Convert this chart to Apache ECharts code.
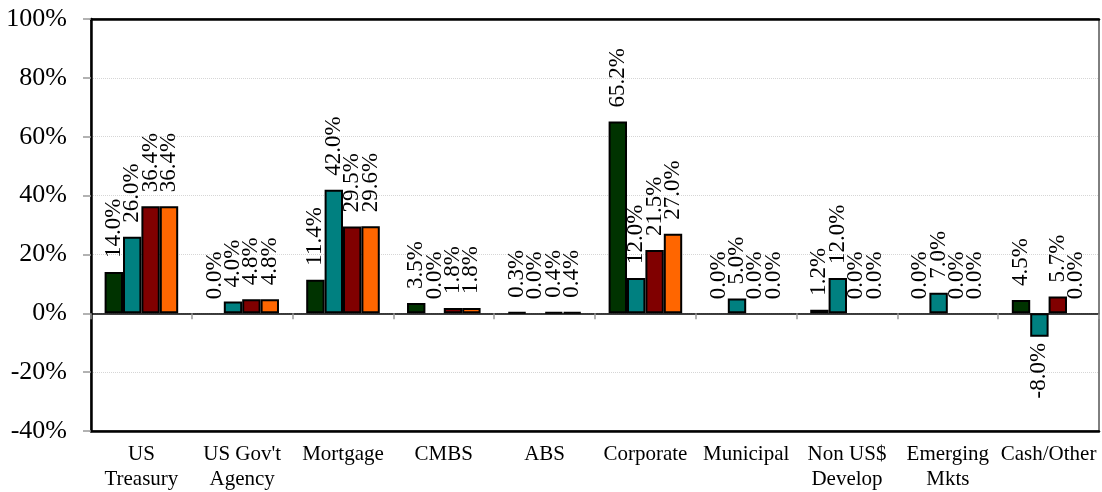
<!DOCTYPE html>
<html>
<head>
<meta charset="utf-8">
<script src="https://cdn.jsdelivr.net/npm/echarts@6/dist/echarts.min.js"></script>
<style>
  html, body { margin: 0; padding: 0; background: #fff; }
  #chart { width: 1102px; height: 492px; }
</style>
</head>
<body>
<div id="chart"></div>
<script>
// Sector allocation (%) by fund, four series per sector
const categories = ["US\nTreasury", "US Gov't\nAgency", "Mortgage", "CMBS", "ABS",
  "Corporate", "Municipal", "Non US$\nDevelop", "Emerging\nMkts", "Cash/Other"];
const seriesA = [14.0, 0.0, 11.4, 3.5, 0.3, 65.2, 0.0, 1.2, 0.0, 4.5];
const seriesB = [26.0, 4.0, 42.0, 0.0, 0.0, 12.0, 5.0, 12.0, 7.0, -8.0];
const seriesC = [36.4, 4.8, 29.5, 1.8, 0.4, 21.5, 0.0, 0.0, 0.0, 5.7];
const seriesD = [36.4, 4.8, 29.6, 1.8, 0.4, 27.0, 0.0, 0.0, 0.0, 0.0];
const colors = ['#003300', '#008080', '#800000', '#FF6600'];
const yTicks = { min: -40, max: 100, interval: 20 };

const FONT = 'Liberation Serif';

function toItems(values) {
  return values.map(v => {
    const item = { value: v };
    if (v === 0) item.itemStyle = { borderWidth: 0 };
    if (v < 0) item.label = { position: 'bottom', align: 'right', distance: 6 };
    return item;
  });
}

function makeSeries(values, color) {
  return {
    type: 'bar',
    xAxisIndex: 0,
    data: toItems(values),
    barGap: '0%',
    barCategoryGap: '27%',
    itemStyle: { color: color, borderColor: '#000', borderWidth: 2 },
    label: {
      show: true,
      position: 'top',
      rotate: 90,
      align: 'left',
      verticalAlign: 'middle',
      distance: 14,
      fontFamily: FONT,
      fontSize: 23,
      color: '#000',
      formatter: p => p.value.toFixed(1) + '%'
    },
    emphasis: { disabled: true },
    animation: false
  };
}

const chart = echarts.init(document.getElementById('chart'), null, { renderer: 'canvas' });
chart.setOption({
  backgroundColor: '#fff',
  animation: false,
  grid: {
    left: 91, right: 3, top: 19, bottom: 60,
    show: true, borderColor: '#000', borderWidth: 1, backgroundColor: 'transparent'
  },
  xAxis: [
    {
      type: 'category',
      data: categories,
      position: 'bottom',
      axisLine: { onZero: false, lineStyle: { color: '#000', width: 2.5 } },
      axisTick: { show: false },
      axisLabel: {
        interval: 0, margin: 11, fontFamily: FONT, fontSize: 21, color: '#000', lineHeight: 25
      }
    },
    {
      // zero baseline with category ticks
      type: 'category',
      data: categories,
      position: 'bottom',
      axisLine: { onZero: true, lineStyle: { color: '#000', width: 1.5 } },
      axisTick: { show: true, length: 6, lineStyle: { color: '#999', width: 1.5 } },
      axisLabel: { show: false }
    },
    {
      // heavier top edge of the plot frame
      type: 'category',
      data: categories,
      position: 'top',
      axisLine: { show: true, lineStyle: { color: '#000', width: 2.5 } },
      axisTick: { show: false },
      axisLabel: { show: false }
    }
  ],
  yAxis: {
    type: 'value',
    min: yTicks.min,
    max: yTicks.max,
    interval: yTicks.interval,
    axisLine: { show: true, onZero: false, lineStyle: { color: '#000', width: 2.5 } },
    axisTick: { show: true, length: 8, lineStyle: { color: '#999', width: 1.5 } },
    axisLabel: {
      margin: 24, fontFamily: FONT, fontSize: 26, color: '#000',
      formatter: v => v + '%'
    },
    splitLine: { show: true, lineStyle: { color: '#d6d6d6', type: 'dotted', width: 1 } }
  },
  series: [
    makeSeries(seriesA, colors[0]),
    makeSeries(seriesB, colors[1]),
    makeSeries(seriesC, colors[2]),
    makeSeries(seriesD, colors[3])
  ]
});
</script>
</body>
</html>
